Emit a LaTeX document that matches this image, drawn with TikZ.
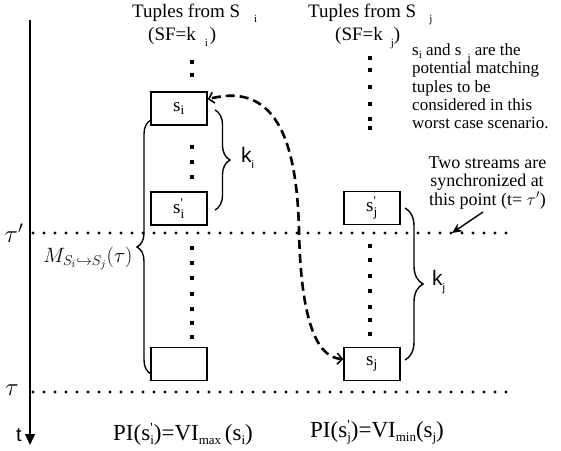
\documentclass[tikz,border=0pt]{standalone}
\usepackage{amsmath}
\usepackage{fontspec}
\setmainfont{Liberation Serif}
\newfontfamily\sansk{Liberation Sans}
\usetikzlibrary{arrows.meta,decorations.pathreplacing,calc}
\newcommand{\lowsub}[2][5pt]{\raisebox{-#1}{\fontsize{11}{11}\selectfont #2}}
\newcommand{\fsub}[1]{\raisebox{-4.5pt}{\fontsize{13}{13}\selectfont #1}}
\newcommand{\fprimesub}[1]{\rlap{\raisebox{8pt}{\fontsize{14}{14}\selectfont\textquotesingle}}\raisebox{-4.5pt}{\fontsize{13}{13}\selectfont #1}}
\newcommand{\pq}{\text{\textquotesingle}}
\tikzset{
  titletext/.style={font=\fontsize{19}{21}\selectfont, inner sep=0pt},
  blocktext/.style={font=\fontsize{17}{19}\selectfont, inner sep=0pt},
  twotext/.style={font=\fontsize{18}{20}\selectfont, inner sep=0pt},
  formtext/.style={font=\fontsize{23}{26}\selectfont, inner sep=0pt},
  tuplebox/.style={draw, line width=1.4pt, minimum width=56pt, minimum height=33pt, inner sep=0pt, font=\fontsize{19}{19}\selectfont},
  dotline/.style={line width=3.2pt, dash pattern=on 0pt off 11pt, line cap=round},
  bracedeco/.style={decorate, decoration={brace, amplitude=#1}, line width=1.4pt},
  klabel/.style={font=\sansk\fontsize{21}{21}\selectfont, inner sep=0pt, anchor=west},
  taulabel/.style={font=\fontsize{23}{23}\selectfont, inner sep=0pt},
}
\begin{document}
\begin{tikzpicture}[x=1pt,y=-1pt]
\useasboundingbox (0,0) rectangle (561,450);

% time axis
\coordinate (ax0) at (30,20);
\coordinate (ax1) at (30,445);
\draw[line width=1.4pt, -{Triangle[length=11pt,width=10pt]}] (ax0) -- (ax1);
\node[font=\sansk\fontsize{20}{20}\selectfont, inner sep=0pt, anchor=base] (tlab) at (19,441) {t};

% dotted time lines
\coordinate (d1a) at (33,233);
\coordinate (d1b) at (510,233);
\coordinate (d2a) at (33,392);
\coordinate (d2b) at (510,392);
\draw[dotline] (d1a) -- (d1b);
\draw[dotline] (d2a) -- (d2b);
\node[taulabel] (taup) at (14,233) {$\tau'$};
\node[taulabel] (tau) at (12,390) {$\tau$};

% titles
\node[titletext, anchor=base west] (ti) at (132,17) {Tuples from S\hspace{14pt}\lowsub{i}};
\node[titletext, anchor=base west] (sfi) at (148,40) {(SF=k\hspace{9pt}\lowsub[6pt]{i}\hspace{2pt})};
\node[titletext, anchor=base west] (tj) at (308,17) {Tuples from S\hspace{13pt}\lowsub{j}};
\node[titletext, anchor=base west] (sfj) at (335,40) {(SF=k\hspace{8pt}\lowsub[6pt]{j})};

% right explanation
\node[blocktext, anchor=base west] (r1) at (412,55) {s\lowsub[3pt]{i} and s\hspace{6pt}\lowsub[6pt]{j} are the};
\node[blocktext, anchor=base west] (r2) at (412,73.5) {potential matching};
\node[blocktext, anchor=base west] (r3) at (412,92) {tuples to be};
\node[blocktext, anchor=base west] (r4) at (412,110) {considered in this};
\node[blocktext, anchor=base west] (r5) at (412,128) {worst case scenario.};

\node[twotext, anchor=base] (w1) at (487.5,168) {Two streams are};
\node[twotext, anchor=base] (w2) at (487,186.5) {synchronized at};
\node[twotext, anchor=base] (w3) at (487.5,205) {this point (t= $\tau'$)};

% boxes
\node[tuplebox] (bi) at (179,108.5) {s$_{\text{i}}$};
\node[tuplebox] (bpi) at (179,208.5) {s$^{\pq}_{\text{i}}$};
\node[tuplebox] (bb) at (179,364) {};
\node[tuplebox] (bpj) at (372,208) {s$^{\pq}_{\text{j}}$};
\node[tuplebox] (bj) at (372,364) {s$_{\text{j}}$};

% column dots
\foreach \y in {62,75,147,162,177,248,263,278,294,309,323,337}
  \fill (190,\y-2) rectangle ++(4,4);
\foreach \y in {58,70,87,104,119,128,246,260,276,291,307,320,334}
  \fill (368,\y-2) rectangle ++(4,4);

% braces
\coordinate (mtop) at (151,120);
\coordinate (mbot) at (151,374);
\draw[bracedeco=14pt] (mbot) -- (mtop);
\node[font=\fontsize{21.5}{22}\selectfont, inner sep=0pt] (mlab) at (88,258) {$M_{S_i\hookrightarrow S_j}(\tau)$};

\coordinate (kit) at (215,110);
\coordinate (kib) at (215,210);
\draw[bracedeco=15pt] (kit) -- (kib);
\node[klabel] (ki) at (241,158) {k\lowsub[6pt]{\sansk i}};

\coordinate (kjt) at (405,208);
\coordinate (kjb) at (405,360);
\draw[bracedeco=18pt] (kjt) -- (kjb);
\node[klabel] (kj) at (432,282) {k\lowsub[6pt]{\sansk j}};

% dashed matching arrow
\draw[line width=2.6pt, dash pattern=on 9pt off 5pt,
      {Straight Barb[length=5pt,width=11pt,line width=1.6pt]}-{Straight Barb[length=5pt,width=11pt,line width=1.6pt]}]
  ($(bj.west)+(0,-5)$) .. controls (320,358) and (301,330) .. (299,230)
  .. controls (297,150) and (280,80) .. ($(bi.north east)+(0,8)$);

% pointer arrow
\coordinate (ps) at (483,212);
\coordinate (pe) at (452,233);
\draw[line width=1.4pt, -{Stealth[length=10pt,width=9pt]}] (ps) -- (pe);

% bottom formulas
\node[formtext, anchor=base west] (f1) at (113,440) {PI(s\fprimesub{i})=VI\fsub{max}\,(s\fsub{i})};
\node[formtext, anchor=base west] (f2) at (310,437) {PI(s\fprimesub{j})=VI\fsub{min}(s\fsub{j})};
\end{tikzpicture}
\end{document}
